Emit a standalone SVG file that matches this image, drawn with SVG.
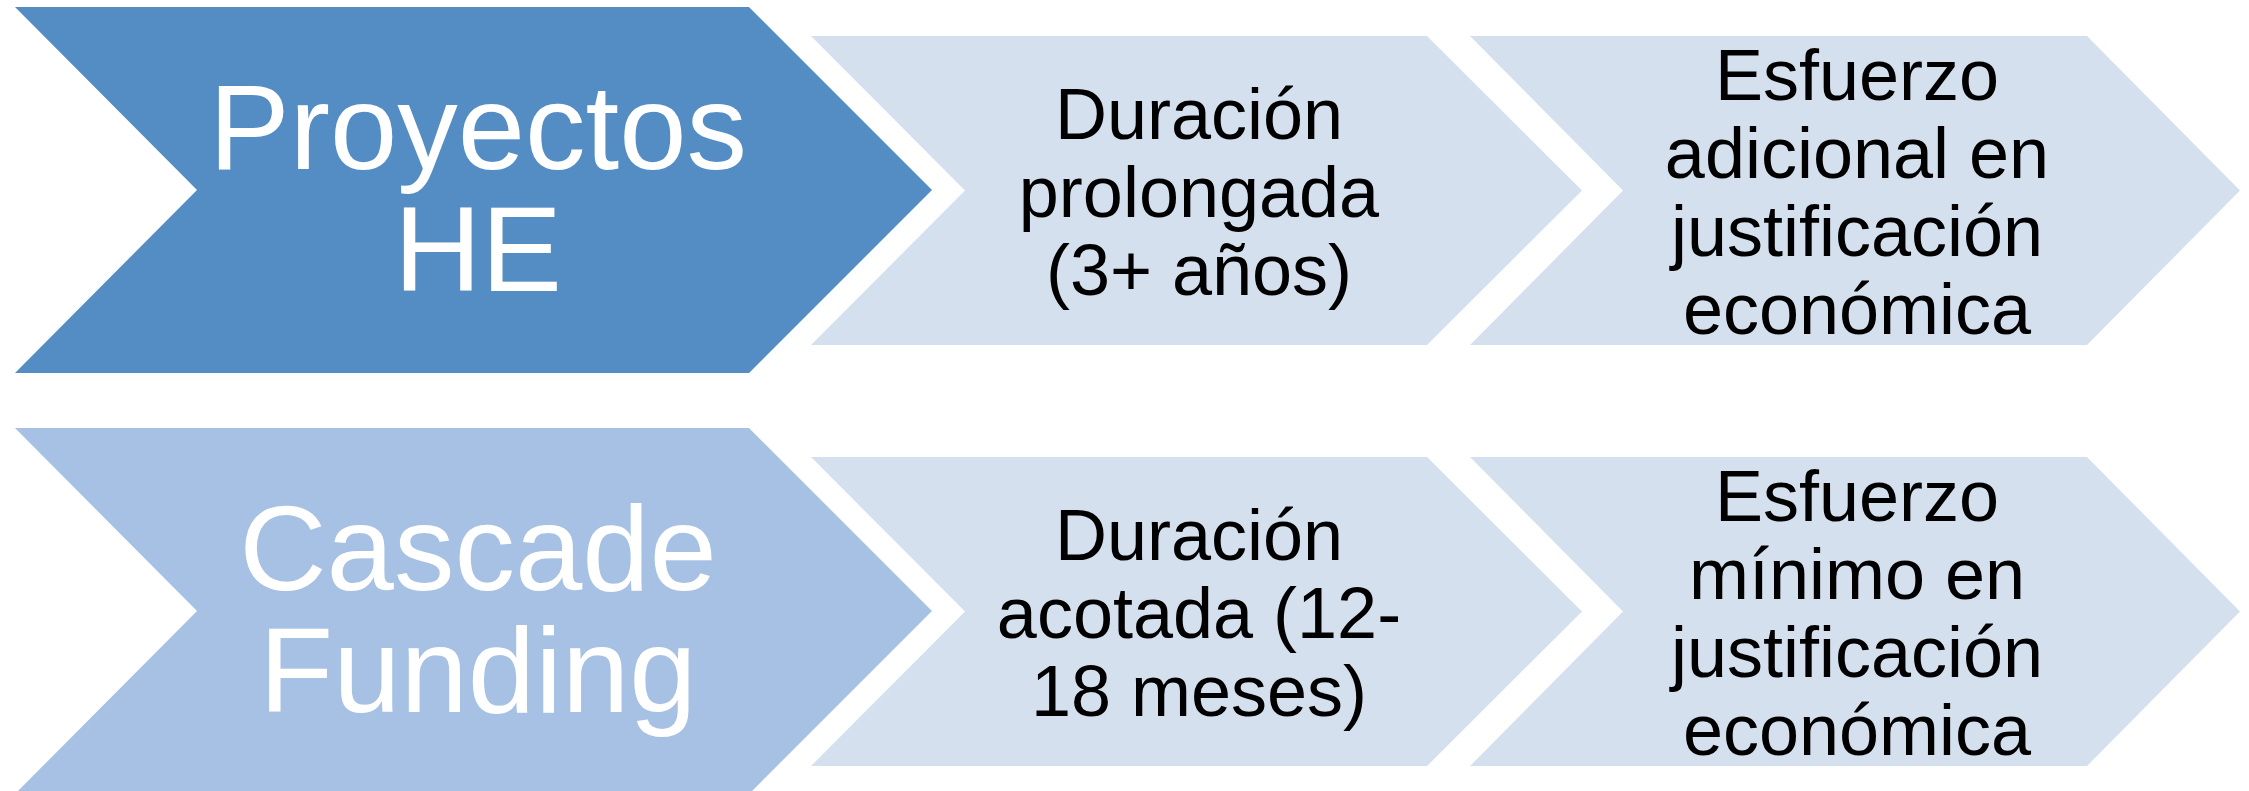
<svg xmlns="http://www.w3.org/2000/svg" width="2249" height="791" viewBox="0 0 2249 791">
<style>
.t{font-family:"Liberation Sans",Arial,sans-serif;text-anchor:middle}
.big{font-size:121px;fill:#ffffff}
.med{font-size:72px;fill:#000000}
.c1{fill:#548DC3}
.c2{fill:#A6C1E3}
.c3{fill:#D5E0EE}
</style>
<rect width="2249" height="791" fill="#ffffff"/>
<g id="row1">
<g id="proyectos-he">
<polygon class="c1" points="15,7 749,7 932,190 749,373 15,373 197,190"/>
<text class="t big" x="478"><tspan x="478" y="169">Proyectos</tspan><tspan x="478" y="291">HE</tspan></text>
</g>
<g id="duracion-prolongada">
<polygon class="c3" points="811,36 1427,36 1582,190.5 1427,345 811,345 965,190.5"/>
<text class="t med"><tspan x="1199" y="139">Duración</tspan><tspan x="1199" y="217">prolongada</tspan><tspan x="1199" y="295">(3+ años)</tspan></text>
</g>
<g id="esfuerzo-adicional">
<polygon class="c3" points="1470,36 2087,36 2240,190.5 2087,345 1470,345 1623,190.5"/>
<text class="t med"><tspan x="1857" y="100">Esfuerzo</tspan><tspan x="1857" y="178">adicional en</tspan><tspan x="1857" y="256">justificación</tspan><tspan x="1857" y="334">económica</tspan></text>
</g>
</g>
<g id="row2">
<g id="cascade-funding">
<polygon class="c2" points="15,428 749,428 932,611 749,794 15,794 197,611"/>
<text class="t big"><tspan x="478" y="590">Cascade</tspan><tspan x="478" y="712">Funding</tspan></text>
</g>
<g id="duracion-acotada">
<polygon class="c3" points="811,457 1427,457 1582,611.5 1427,766 811,766 965,611.5"/>
<text class="t med"><tspan x="1199" y="560">Duración</tspan><tspan x="1199" y="638">acotada (12-</tspan><tspan x="1199" y="716">18 meses)</tspan></text>
</g>
<g id="esfuerzo-minimo">
<polygon class="c3" points="1470,457 2087,457 2240,611.5 2087,766 1470,766 1623,611.5"/>
<text class="t med"><tspan x="1857" y="521">Esfuerzo</tspan><tspan x="1857" y="599">mínimo en</tspan><tspan x="1857" y="677">justificación</tspan><tspan x="1857" y="755">económica</tspan></text>
</g>
</g>
<g id="connectors"></g>
</svg>
